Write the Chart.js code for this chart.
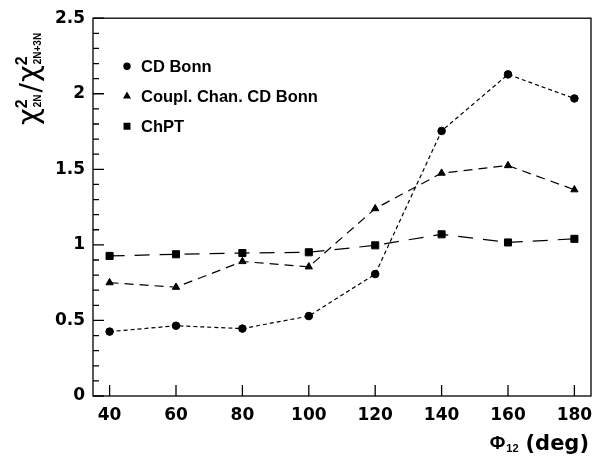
<!DOCTYPE html>
<html>
<head>
<meta charset="utf-8">
<script src="https://cdn.jsdelivr.net/npm/chart.js@4"></script>
<style>
  html, body { margin: 0; padding: 0; background: #fff; }
  #wrap { width: 607px; height: 462px; }
</style>
</head>
<body>
<div id="wrap"><canvas id="chi2Chart"></canvas></div>
<script>
// phi_12 angles (deg)
var phi = [40, 60, 80, 100, 120, 140, 160, 180];
// chi2 ratio per model
var cdBonn = [0.426, 0.465, 0.446, 0.529, 0.807, 1.754, 2.128, 1.969];
var couplChan = [0.75, 0.72, 0.89, 0.855, 1.24, 1.475, 1.525, 1.365];
var chpt = [0.927, 0.938, 0.946, 0.951, 0.997, 1.07, 1.016, 1.04];
var seriesNames = ["CD Bonn", "Coupl. Chan. CD Bonn", "ChPT"];
var xTicks = [40, 60, 80, 100, 120, 140, 160, 180];
var yTicks = [0, 0.5, 1, 1.5, 2, 2.5];

var FONT = "'Liberation Sans', Arial, sans-serif";
var WIDE = "'DejaVu Sans', sans-serif";

function pts(ys) {
    return phi.map(function (x, i) { return { x: x, y: ys[i] }; });
}

// frame, inward ticks, legend and axis titles
var decor = {
    id: 'decor',
    afterDraw: function (chart) {
        var ctx = chart.ctx, a = chart.chartArea;
        var xs = chart.scales.x, ys = chart.scales.y;
        ctx.save();
        ctx.strokeStyle = '#000';
        ctx.lineWidth = 1.3;
        ctx.strokeRect(a.left, a.top, a.right - a.left, a.bottom - a.top);
        ctx.beginPath();
        xTicks.forEach(function (v) {
            var px = xs.getPixelForValue(v);
            ctx.moveTo(px, a.bottom);
            ctx.lineTo(px, a.bottom - 11);
        });
        for (var i = 0; i <= 25; i++) {
            var py = ys.getPixelForValue(i / 10);
            var len = (i % 5 === 0) ? 11 : 6;
            ctx.moveTo(a.left, py);
            ctx.lineTo(a.left + len, py);
        }
        ctx.stroke();

        // legend
        chart.data.datasets.forEach(function (ds, i) {
            var lx = a.left + 34, ly = a.top + 48 + i * 30;
            ctx.fillStyle = '#000';
            ctx.strokeStyle = '#000';
            Chart.helpers.drawPoint(ctx, {
                pointStyle: ds.pointStyle, radius: ds.pointRadius * 0.8, borderWidth: 1
            }, lx, ly);
            ctx.font = 'bold 16.5px ' + FONT;
            ctx.textBaseline = 'middle';
            ctx.fillText(ds.label, lx + 14, ly + 1);
        });

        // x title: Phi_12 (deg), right aligned to the frame
        ctx.fillStyle = '#000';
        ctx.textBaseline = 'alphabetic';
        var by = 450;
        ctx.font = 'bold 21px ' + WIDE;
        var dw = ctx.measureText('(deg)').width;
        var dx = a.right - 2 - dw;
        ctx.fillText('(deg)', dx, by);
        ctx.font = 'bold 11px ' + FONT;
        var sw = ctx.measureText('12').width;
        ctx.fillText('12', dx - 7 - sw, by + 2);
        ctx.font = 'bold 19px ' + FONT;
        var pw = ctx.measureText('\u03A6').width;
        ctx.fillText('\u03A6', dx - 8 - sw - pw, by - 1);

        // y title: chi^2_2N / chi^2_2N+3N  (rotated)
        ctx.translate(41, 125);
        ctx.rotate(-Math.PI / 2);
        var tx = 0;
        function piece(txt, font, dy, gap) {
            ctx.font = font;
            ctx.fillText(txt, tx, dy);
            tx += ctx.measureText(txt).width + (gap || 0);
        }
        var chiFont = '29px ' + WIDE;
        var supFont = 'bold 16px ' + FONT;
        var subFont = 'bold 10px ' + FONT;
        piece('\u03C7', chiFont, -3, 0);
        var sx = tx;
        piece('2', supFont, -14, 0);
        tx = sx + 1;
        piece('2N', subFont, 0, 2);
        piece('/', '28px ' + WIDE, -1, 1);
        piece('\u03C7', chiFont, -3, 0);
        sx = tx;
        piece('2', supFont, -14, 0);
        tx = sx + 1;
        piece('2N+3N', subFont, 0, 0);
        ctx.restore();
    }
};

var ctx = document.getElementById('chi2Chart');
var chi2Chart = new Chart(ctx, {
    type: 'scatter',
    data: {
        datasets: [{
            label: seriesNames[0],
            data: pts(cdBonn),
            showLine: true,
            borderColor: '#000',
            backgroundColor: '#000',
            borderWidth: 1.2,
            borderDash: [4, 3],
            pointStyle: 'circle',
            pointRadius: 3.8,
            pointBorderWidth: 1
        }, {
            label: seriesNames[1],
            data: pts(couplChan),
            showLine: true,
            borderColor: '#000',
            backgroundColor: '#000',
            borderWidth: 1.2,
            borderDash: [9, 6],
            pointStyle: 'triangle',
            pointRadius: 4.2,
            pointBorderWidth: 1
        }, {
            label: seriesNames[2],
            data: pts(chpt),
            showLine: true,
            borderColor: '#000',
            backgroundColor: '#000',
            borderWidth: 1.2,
            borderDash: [15, 10],
            pointStyle: 'rect',
            pointRadius: 5,
            pointBorderWidth: 1
        }]
    },
    options: {
        responsive: true,
        maintainAspectRatio: false,
        animation: false,
        layout: { padding: { top: 13, right: 16, left: 0, bottom: 0 } },
        plugins: {
            legend: { display: false },
            tooltip: { enabled: false }
        },
        scales: {
            x: {
                type: 'linear',
                min: 35,
                max: 185,
                afterBuildTicks: function (scale) {
                    scale.ticks = xTicks.map(function (v) { return { value: v }; });
                },
                afterFit: function (scale) { scale.height = 66; },
                grid: { display: false, drawTicks: false },
                border: { display: false },
                ticks: {
                    padding: 9,
                    color: '#000',
                    font: { family: WIDE, size: 17, weight: 'bold' },
                    maxRotation: 0,
                    callback: function (v) { return String(v); }
                }
            },
            y: {
                min: 0,
                max: 2.5,
                afterBuildTicks: function (scale) {
                    scale.ticks = yTicks.map(function (v) { return { value: v }; });
                },
                afterFit: function (scale) { scale.width = 93; },
                grid: { display: false, drawTicks: false },
                border: { display: false },
                ticks: {
                    padding: 8,
                    color: '#000',
                    font: { family: WIDE, size: 17, weight: 'bold' },
                    callback: function (v) { return String(v); }
                }
            }
        }
    },
    plugins: [decor]
});
</script>
</body>
</html>
